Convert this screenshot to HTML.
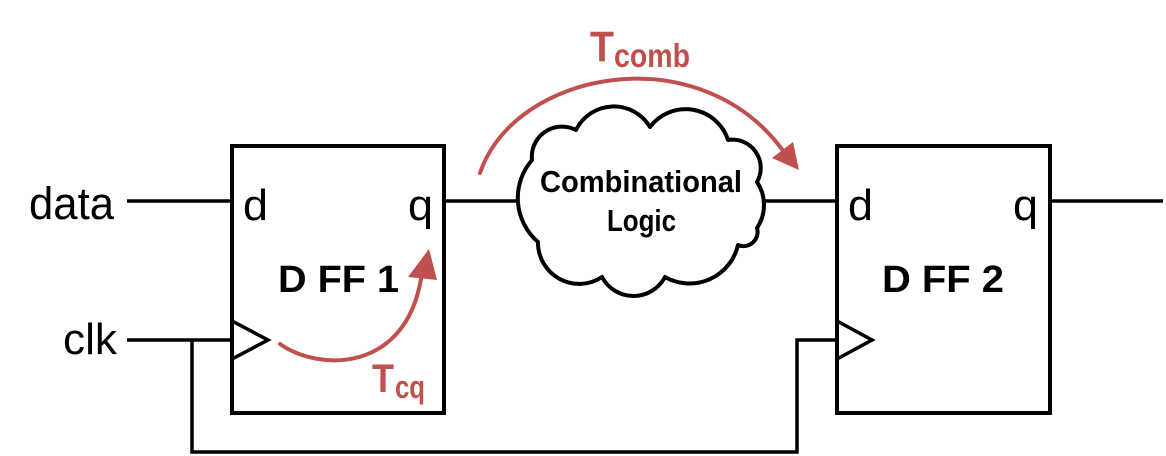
<!DOCTYPE html>
<html>
<head>
<meta charset="utf-8">
<style>
  html, body { margin: 0; padding: 0; background: #ffffff; }
  svg { display: block; }
  .reg { font-family: "Liberation Sans", sans-serif; fill: #000; }
  .bold { font-family: "Liberation Sans", sans-serif; font-weight: bold; fill: #000; }
  .red { font-family: "Liberation Sans", sans-serif; font-weight: bold; fill: #C0504D; }
</style>
</head>
<body>
<svg width="1166" height="456" viewBox="0 0 1166 456" xmlns="http://www.w3.org/2000/svg">
  <rect width="1166" height="456" fill="#ffffff"/>

  <!-- wires -->
  <g stroke="#000" stroke-width="3.5" fill="none" stroke-linejoin="miter">
    <line x1="127" y1="201" x2="232" y2="201"/>
    <line x1="127" y1="340" x2="232" y2="340"/>
    <polyline points="192,340 192,452 797,452 797,340 837,340"/>
    <line x1="444" y1="201" x2="519" y2="201"/>
    <line x1="762" y1="201" x2="837" y2="201"/>
    <line x1="1050" y1="201" x2="1163" y2="201"/>
  </g>

  <!-- flip-flop boxes -->
  <g stroke="#000" stroke-width="4" fill="#fff">
    <rect x="232" y="146" width="212" height="267"/>
    <rect x="837" y="146" width="213" height="267"/>
  </g>
  <!-- clock triangles -->
  <g stroke="#000" stroke-width="3.5" fill="none" stroke-linejoin="miter">
    <polyline points="232,321 268,340 232,359"/>
    <polyline points="837,321 872,340 837,359"/>
  </g>

  <!-- cloud -->
  <path d="M 532 160
           A 30.2 30.2 0 0 1 576 130
           A 42.1 42.1 0 0 1 650 127
           A 44.5 44.5 0 0 1 728 140
           A 28.3 28.3 0 0 1 757 182
           A 41.3 41.3 0 0 1 757 228
           A 14.1 14.1 0 0 1 738 245
           A 49.7 49.7 0 0 1 665 277
           A 35.6 35.6 0 0 1 602 277
           A 41.2 41.2 0 0 1 538 242
           A 58 58 0 0 1 532 160 Z"
        fill="#fff" stroke="#000" stroke-width="4" stroke-linejoin="round"/>

  <!-- labels -->
  <text class="reg" x="29" y="219" font-size="45" textLength="85" lengthAdjust="spacingAndGlyphs">data</text>
  <text class="reg" x="63" y="354" font-size="44" textLength="54" lengthAdjust="spacingAndGlyphs">clk</text>

  <text class="reg" x="243" y="220" font-size="44" textLength="25" lengthAdjust="spacingAndGlyphs">d</text>
  <text class="reg" x="408" y="220" font-size="44" textLength="25" lengthAdjust="spacingAndGlyphs">q</text>
  <text class="bold" x="278" y="292" font-size="38" textLength="121" lengthAdjust="spacingAndGlyphs">D FF 1</text>

  <text class="reg" x="848" y="220" font-size="44" textLength="25" lengthAdjust="spacingAndGlyphs">d</text>
  <text class="reg" x="1013" y="220" font-size="44" textLength="25" lengthAdjust="spacingAndGlyphs">q</text>
  <text class="bold" x="882" y="292" font-size="38" textLength="122" lengthAdjust="spacingAndGlyphs">D FF 2</text>

  <text class="bold" x="540" y="192" font-size="31" textLength="202" lengthAdjust="spacingAndGlyphs">Combinational</text>
  <text class="bold" x="607" y="231" font-size="31" textLength="69" lengthAdjust="spacingAndGlyphs">Logic</text>

  <!-- Tcomb arrow -->
  <path d="M 480 173 C 515 70, 700 35, 784 152" fill="none" stroke="#C0504D" stroke-width="4" stroke-linecap="round"/>
  <polygon points="772,158 793,142 799,170" fill="#C0504D"/>
  <text class="red" x="590" y="61" font-size="43" textLength="24" lengthAdjust="spacingAndGlyphs">T</text>
  <text class="red" x="614" y="67" font-size="33" textLength="76" lengthAdjust="spacingAndGlyphs">comb</text>

  <!-- Tcq arrow -->
  <path d="M 280 344 C 320 372, 405 372, 421 279" fill="none" stroke="#C0504D" stroke-width="4" stroke-linecap="round"/>
  <polygon points="408,277 437,280 429,249" fill="#C0504D"/>
  <text class="red" x="372" y="392" font-size="40" textLength="22" lengthAdjust="spacingAndGlyphs">T</text>
  <text class="red" x="395" y="398" font-size="32" textLength="30" lengthAdjust="spacingAndGlyphs">cq</text>
</svg>
</body>
</html>
